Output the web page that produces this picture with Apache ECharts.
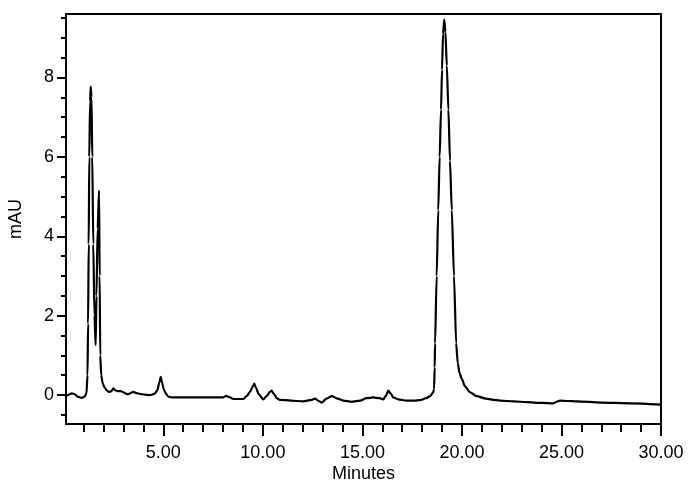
<!DOCTYPE html>
<html>
<head>
<meta charset="utf-8">
<script src="https://cdn.jsdelivr.net/npm/echarts@6/dist/echarts.min.js"></script>
<style>
  html, body { margin: 0; padding: 0; background: #fff; }
  #chart { width: 690px; height: 483px; }
</style>
</head>
<body>
<div id="chart"></div>
<script>
// retention time (min) and absorbance (mAU)
var times = [
  0.11, 0.25, 0.40, 0.55, 0.70, 0.90, 1.05, 1.14, 1.19, 1.22,
  1.25, 1.28, 1.32, 1.35, 1.39, 1.43, 1.48, 1.54, 1.60, 1.64,
  1.70, 1.77, 1.80, 1.83, 1.88, 1.95, 2.05, 2.15, 2.25, 2.38,
  2.49, 2.58, 2.70, 2.85, 2.99, 3.15, 3.24, 3.35, 3.49, 3.65,
  3.83, 4.05, 4.33, 4.55, 4.70, 4.80, 4.87, 4.93, 5.02, 5.12,
  5.25, 5.40, 6.50, 7.50, 8.00, 8.15, 8.30, 8.52, 9.02, 9.20,
  9.35, 9.50, 9.57, 9.65, 9.80, 10.02, 10.20, 10.35, 10.44, 10.55,
  10.70, 10.85, 11.40, 12.03, 12.45, 12.62, 12.80, 12.96, 13.20, 13.46,
  13.75, 14.04, 14.46, 14.88, 15.20, 15.55, 15.85, 16.05, 16.18, 16.30,
  16.42, 16.55, 16.80, 17.22, 17.60, 17.89, 18.20, 18.40, 18.55, 18.60,
  18.63, 18.65, 18.73, 18.81, 18.88, 18.95, 19.00, 19.05, 19.11, 19.17,
  19.24, 19.32, 19.40, 19.49, 19.60, 19.71, 19.79, 19.88, 20.00, 20.15,
  20.40, 20.74, 21.20, 21.57, 21.91, 22.60, 23.25, 24.00, 24.59, 24.75,
  24.92, 25.30, 25.76, 27.00, 28.50, 30.00
];
var absorb = [
  -0.03, 0.01, 0.04, 0.02, -0.04, -0.07, -0.04, 0.05, 0.5, 1.8,
  3.8, 6.0, 7.4, 7.77, 7.5, 6.0, 3.8, 2.0, 1.26, 2.5,
  4.2, 5.15, 3.0, 1.0, 0.5, 0.3, 0.19, 0.12, 0.08, 0.09,
  0.17, 0.12, 0.10, 0.10, 0.07, 0.03, 0.02, 0.05, 0.08, 0.05,
  0.03, 0.01, 0.00, 0.03, 0.12, 0.32, 0.46, 0.32, 0.15, 0.04,
  -0.04, -0.06, -0.06, -0.06, -0.06, -0.02, -0.05, -0.10, -0.10, -0.02,
  0.08, 0.22, 0.29, 0.18, 0.02, -0.11, -0.02, 0.08, 0.11, 0.03,
  -0.08, -0.12, -0.14, -0.16, -0.12, -0.09, -0.15, -0.19, -0.09, -0.03,
  -0.09, -0.14, -0.17, -0.14, -0.08, -0.06, -0.08, -0.11, -0.02, 0.11,
  0.04, -0.06, -0.11, -0.14, -0.14, -0.13, -0.08, -0.03, 0.06, 0.15,
  0.7, 1.3, 3.0, 4.66, 6.0, 7.19, 8.2, 9.1, 9.46, 9.15,
  8.3, 7.19, 5.9, 4.66, 3.0, 1.30, 0.8, 0.55, 0.40, 0.22,
  0.07, -0.03, -0.09, -0.12, -0.14, -0.16, -0.18, -0.20, -0.21, -0.17,
  -0.14, -0.15, -0.16, -0.19, -0.21, -0.24
];
var xLabels = [5, 10, 15, 20, 25, 30];
var xMinor = [1, 2, 3, 4, 6, 7, 8, 9, 11, 12, 13, 14, 16, 17, 18, 19, 21, 22, 23, 24, 26, 27, 28, 29];
var yLabels = [0, 2, 4, 6, 8];
var yMinor = [-0.5, 0.5, 1, 1.5, 2.5, 3, 3.5, 4.5, 5, 5.5, 6.5, 7, 7.5, 8.5, 9, 9.5];

var X_MIN = 0.11, X_MAX = 30, Y_MIN = -0.73, Y_MAX = 9.6;

var points = [];
for (var i = 0; i < times.length; i++) {
  points.push([times[i], absorb[i]]);
}

var font = 'Liberation Sans, Arial, sans-serif';
var axisLine = { show: true, onZero: false, lineStyle: { color: '#000', width: 2 } };

var chart = echarts.init(document.getElementById('chart'));
chart.setOption({
  animation: false,
  grid: {
    left: 66, right: 29, top: 14, bottom: 59,
    outerBoundsMode: 'none',
    containLabel: false,
    show: true, borderColor: '#000', borderWidth: 2, backgroundColor: 'transparent'
  },
  xAxis: [{
    type: 'value', min: X_MIN, max: X_MAX, position: 'bottom',
    name: 'Minutes', nameLocation: 'middle', nameGap: 41, nameMoveOverlap: false,
    nameTextStyle: { color: '#000', fontSize: 18, fontFamily: font },
    axisLine: axisLine,
    axisTick: { show: true, length: 12, lineStyle: { color: '#000', width: 2 }, customValues: xLabels },
    axisLabel: {
      color: '#000', fontSize: 18, fontFamily: font, margin: 20,
      customValues: xLabels,
      formatter: function (v) { return v.toFixed(2); }
    },
    splitLine: { show: false }
  }, {
    type: 'value', min: X_MIN, max: X_MAX, position: 'bottom',
    axisLine: { show: false, onZero: false },
    axisTick: { show: true, length: 8, lineStyle: { color: '#000', width: 2 }, customValues: xMinor },
    axisLabel: { show: false },
    splitLine: { show: false }
  }],
  yAxis: [{
    type: 'value', min: Y_MIN, max: Y_MAX, position: 'left',
    name: 'mAU', nameLocation: 'middle', nameGap: 41, nameRotate: 90, nameMoveOverlap: false,
    nameTextStyle: { color: '#000', fontSize: 18, fontFamily: font },
    axisLine: axisLine,
    axisTick: { show: true, length: 9, lineStyle: { color: '#000', width: 2 }, customValues: yLabels },
    axisLabel: { color: '#000', fontSize: 18, fontFamily: font, margin: 12, customValues: yLabels },
    splitLine: { show: false }
  }, {
    type: 'value', min: Y_MIN, max: Y_MAX, position: 'left',
    axisLine: { show: false, onZero: false },
    axisTick: { show: true, length: 5, lineStyle: { color: '#000', width: 2 }, customValues: yMinor },
    axisLabel: { show: false },
    splitLine: { show: false }
  }],
  series: [{
    type: 'line',
    xAxisIndex: 0,
    yAxisIndex: 0,
    data: points,
    showSymbol: false,
    smooth: 0.25,
    smoothMonotone: 'x',
    lineStyle: { color: '#000', width: 2.2 }
  }]
});
</script>
</body>
</html>
